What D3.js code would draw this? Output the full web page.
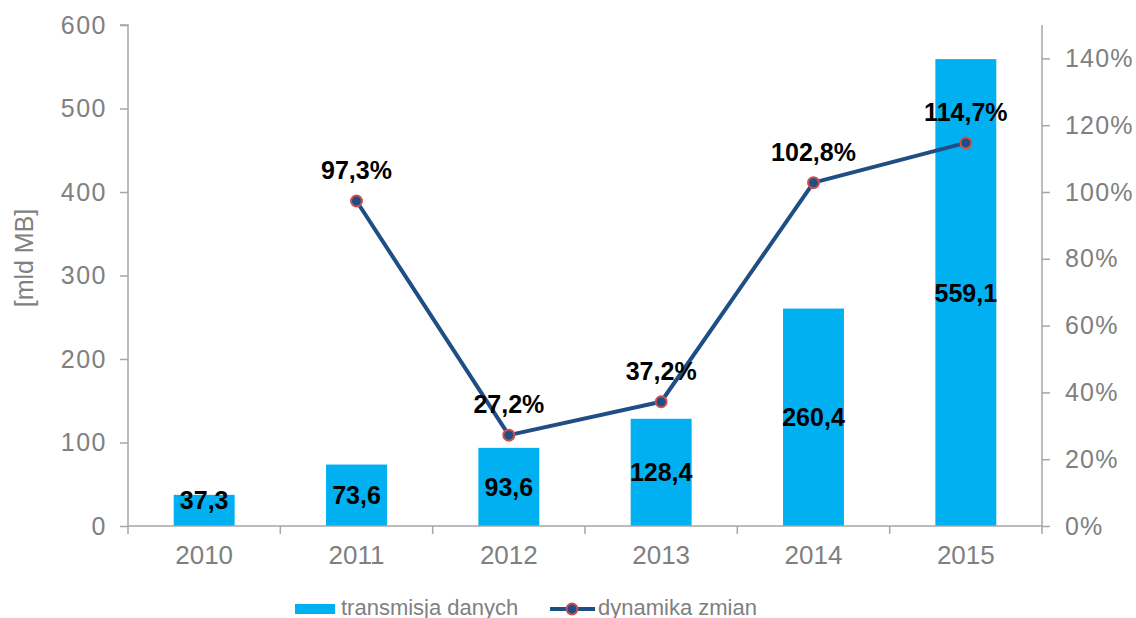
<!DOCTYPE html>
<html>
<head>
<meta charset="utf-8">
<script src="https://cdn.jsdelivr.net/npm/d3@7"></script>
<style>
  html, body { margin: 0; padding: 0; background: #fff; }
  svg { display: block; font-family: "Liberation Sans", Arial, sans-serif; }
</style>
</head>
<body>
<svg id="chart" width="1136" height="618"></svg>
<script>
// Data transfer volume (bars, left axis) and year-on-year change (line, right axis)
const years = ["2010", "2011", "2012", "2013", "2014", "2015"];
const volume = [37.3, 73.6, 93.6, 128.4, 260.4, 559.1];
const changeYears = ["2011", "2012", "2013", "2014", "2015"];
const change = [0.973, 0.272, 0.372, 1.028, 1.147];
const leftTicks = [0, 100, 200, 300, 400, 500, 600];
const rightTicks = [0, 0.2, 0.4, 0.6, 0.8, 1.0, 1.2, 1.4];
const seriesNames = ["transmisja danych", "dynamika zmian"];

(function draw() {
  const svg = d3.select("#chart");
  const axisColor = "#a6a6a6";
  const textGray = "#808080";
  const barColor = "#00b0f0";
  const lineColor = "#1f4e85";
  const markerStroke = "#d0504d";

  const plotLeft = 128, plotRight = 1042, plotTop = 25, plotBottom = 526;

  const x = d3.scaleBand().domain(years).range([plotLeft, plotRight])
    .paddingInner(0.6).paddingOuter(0.3);
  const yL = d3.scaleLinear().domain([0, 600]).range([plotBottom, plotTop]);
  const yR = d3.scaleLinear().domain([0, 1.5]).range([plotBottom, plotTop]);

  const loc = d3.formatLocale({ decimal: ",", thousands: " ", grouping: [3], currency: ["", ""] });
  const fmtNum = loc.format(".1f");
  const fmtPct = v => loc.format(".1f")(v * 100) + "%";

  // Bars
  svg.append("g").selectAll("rect").data(volume).join("rect")
    .attr("x", (d, i) => x(years[i]))
    .attr("y", d => yL(d))
    .attr("width", x.bandwidth())
    .attr("height", d => plotBottom - yL(d))
    .attr("fill", barColor);

  // Left axis
  const gL = svg.append("g").attr("transform", `translate(${plotLeft},0)`)
    .call(d3.axisLeft(yL).tickValues(leftTicks).tickSize(8).tickPadding(13).tickFormat(d3.format("d")));
  gL.select(".domain").attr("stroke", axisColor).attr("stroke-width", 1.5)
    .attr("d", `M-8,${plotTop}H0V${plotBottom + 8}`);
  gL.selectAll(".tick line").attr("stroke", axisColor).attr("stroke-width", 1.5);
  gL.selectAll(".tick text").attr("fill", textGray).attr("font-size", 25)
    .attr("letter-spacing", 1.5)
    .attr("font-family", "Liberation Sans, Arial, sans-serif");

  // Right axis
  const gR = svg.append("g").attr("transform", `translate(${plotRight},0)`)
    .call(d3.axisRight(yR).tickValues(rightTicks).tickSize(8).tickPadding(15).tickFormat(d3.format(".0%")));
  gR.select(".domain").attr("stroke", axisColor).attr("stroke-width", 1.5)
    .attr("d", `M0,${plotTop}V${plotBottom + 8}`);
  gR.selectAll(".tick line").attr("stroke", axisColor).attr("stroke-width", 1.5);
  gR.selectAll(".tick text").attr("fill", textGray).attr("font-size", 25)
    .attr("letter-spacing", 1.2)
    .attr("font-family", "Liberation Sans, Arial, sans-serif");

  // Category axis with ticks between bands
  const gX = svg.append("g").attr("transform", `translate(0,${plotBottom})`)
    .call(d3.axisBottom(x).tickSize(0).tickPadding(20));
  gX.select(".domain").attr("stroke", axisColor).attr("stroke-width", 1.5)
    .attr("d", `M${plotLeft},0H${plotRight}`);
  gX.selectAll(".tick text").attr("fill", textGray).attr("font-size", 26)
    .attr("font-family", "Liberation Sans, Arial, sans-serif");
  const step = x.step();
  const boundary = i => x(years[i]) - (step - x.bandwidth()) / 2;
  gX.append("g").selectAll("line").data(d3.range(1, years.length)).join("line")
    .attr("x1", boundary).attr("x2", boundary)
    .attr("y1", 0).attr("y2", 8)
    .attr("stroke", axisColor).attr("stroke-width", 1.5);

  // Left axis title
  svg.append("text")
    .attr("transform", "translate(24,258) rotate(-90)")
    .attr("text-anchor", "middle").attr("dominant-baseline", "central")
    .attr("fill", textGray).attr("font-size", 25)
    .text("[mld MB]");

  // Bar value labels
  svg.append("g").selectAll("text").data(volume).join("text")
    .attr("x", (d, i) => x(years[i]) + x.bandwidth() / 2)
    .attr("y", d => Math.min((yL(d) + plotBottom) / 2, plotBottom - 26))
    .attr("text-anchor", "middle").attr("dominant-baseline", "central")
    .attr("font-size", 25).attr("font-weight", "bold").attr("fill", "#000")
    .text(d => fmtNum(d));

  // Change line
  const cx = (d, i) => x(changeYears[i]) + x.bandwidth() / 2;
  const line = d3.line().x(cx).y(d => yR(d));
  svg.append("path").datum(change)
    .attr("d", line).attr("fill", "none")
    .attr("stroke", lineColor).attr("stroke-width", 4).attr("stroke-linejoin", "round");
  svg.append("g").selectAll("circle").data(change).join("circle")
    .attr("cx", cx).attr("cy", d => yR(d)).attr("r", 5.5)
    .attr("fill", lineColor).attr("stroke", markerStroke).attr("stroke-width", 2);

  // Change labels
  svg.append("g").selectAll("text").data(change).join("text")
    .attr("x", cx).attr("y", d => yR(d) - 31)
    .attr("text-anchor", "middle").attr("dominant-baseline", "central")
    .attr("font-size", 25).attr("font-weight", "bold").attr("fill", "#000")
    .text(d => fmtPct(d));

  // Legend
  const lg = svg.append("g");
  lg.append("rect").attr("x", 295).attr("y", 604).attr("width", 40).attr("height", 10).attr("fill", barColor);
  lg.append("text").attr("x", 341).attr("y", 607).attr("dominant-baseline", "central")
    .attr("fill", textGray).attr("font-size", 22).text(seriesNames[0]);
  lg.append("line").attr("x1", 550).attr("x2", 595).attr("y1", 609).attr("y2", 609)
    .attr("stroke", lineColor).attr("stroke-width", 4);
  lg.append("circle").attr("cx", 572).attr("cy", 609).attr("r", 5.5)
    .attr("fill", lineColor).attr("stroke", markerStroke).attr("stroke-width", 2);
  lg.append("text").attr("x", 598).attr("y", 607).attr("dominant-baseline", "central")
    .attr("fill", textGray).attr("font-size", 22).text(seriesNames[1]);
})();
</script>
</body>
</html>
